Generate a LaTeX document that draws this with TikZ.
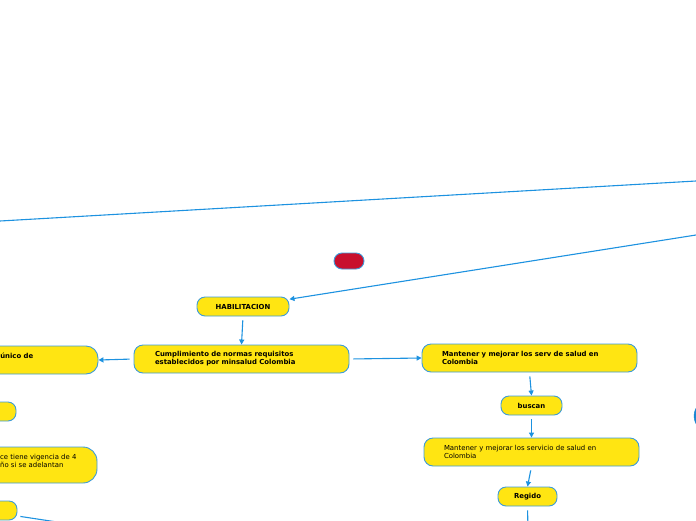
\documentclass[tikz,border=0pt]{standalone}
\usepackage{fontspec}
\setmainfont{DejaVu Sans}
\usetikzlibrary{arrows.meta}
\definecolor{nodefill}{HTML}{FFE512}
\definecolor{nodeedge}{HTML}{3C9BD9}
\definecolor{connblue}{HTML}{1D92E0}
\definecolor{pillred}{HTML}{C8102E}
\definecolor{deepblue}{HTML}{1A86D2}
\tikzset{
  box/.style={draw=nodeedge, fill=nodefill, line width=0.9pt, rounded corners=9pt, inner sep=0pt,
    font=\fontsize{6.9}{8}\selectfont},
  pill/.style={box, rounded corners=8pt, font=\bfseries\fontsize{6.9}{8}\selectfont},
  bigbox/.style={box, minimum height=28pt, align=left, text width=175pt, inner xsep=20pt},
  boldtxt/.style={font=\bfseries\fontsize{6.9}{8}\selectfont},
  plaintxt/.style={font=\fontsize{6.9}{8}\selectfont},
  conn/.style={draw=connblue, line width=1.1pt},
  arr/.style={conn, -{Triangle[length=5pt,width=5pt]}, shorten <=4pt},
}
\begin{document}
\begin{tikzpicture}[x=1pt,y=1pt]
\useasboundingbox (0,0) rectangle (696,-520);
% free ends
\coordinate (l1a) at (0,-221);
\coordinate (l1b) at (696,-181);
\coordinate (l2a) at (696,-235);
\draw[conn] (l1a) -- (l1b);
% nodes
\node[pill, fill=pillred, minimum width=30pt, minimum height=16pt] (red) at (349,-261) {};
\node[pill, minimum width=92pt, minimum height=19pt] (hab) at (243,-306.5) {HABILITACION};
\node[bigbox, text width=173pt, inner xsep=21pt, font=\bfseries\fontsize{6.9}{8}\selectfont] (cump) at (241.5,-359)
  {Cumplimiento de normas requisitos\\establecidos por minsalud Colombia};
\node[bigbox, font=\bfseries\fontsize{6.9}{8}\selectfont] (mant1) at (529.5,-358)
  {Mantener y mejorar los serv de salud en\\Colombia};
\node[pill, minimum width=61pt, minimum height=19pt] (buscan) at (531.5,-405.5) {buscan};
\node[bigbox] (mant2) at (531.5,-452)
  {Mantener y mejorar los servicio de salud en\\Colombia};
\node[pill, minimum width=59pt, minimum height=19pt] (regido) at (527.5,-496.5) {Regido};
% partial nodes at left edge
\node[box, rounded corners=12pt, minimum width=218pt, minimum height=28pt] (left1) at (-11,-360) {};
\node[boldtxt, anchor=east, inner sep=0pt] (left1t) at (33.5,-356) {único de};
\node[pill, minimum width=76pt, minimum height=19pt] (left2) at (-22,-411.5) {};
\node[box, rounded corners=14pt, minimum width=217pt, minimum height=36pt] (left3) at (-11.5,-465) {};
\node[plaintxt, anchor=west, align=left, inner sep=0pt] (left3t) at (0,-461) {ce tiene vigencia de 4\\ño si se adelantan};
\node[pill, minimum width=77pt, minimum height=19pt] (left4) at (-21.5,-510.5) {};
% partial node at right edge
\node[draw=deepblue, fill=deepblue, rounded corners=16pt, minimum width=100pt, minimum height=32pt, inner sep=0pt] (rightnode) at (744,-416) {};
\coordinate (l4b) at (90,-527);
\coordinate (rgb) at (528,-530);
% connectors
\draw[arr, shorten <=0pt] (l2a) -- (hab);
\draw[arr] (hab.south) -- (cump.north);
\draw[arr] (cump.west) -- (left1.east);
\draw[arr] (cump.east) -- (mant1.west);
\draw[arr] (mant1.south) -- (buscan.north);
\draw[arr] (buscan.south) -- (mant2.north);
\draw[arr] (mant2.south) -- (regido.north);
\draw[conn, shorten <=4pt] (regido.south) -- (rgb);
\draw[conn, shorten <=3pt] (left4.east |- 0,-516) -- (l4b);
\end{tikzpicture}
\end{document}
